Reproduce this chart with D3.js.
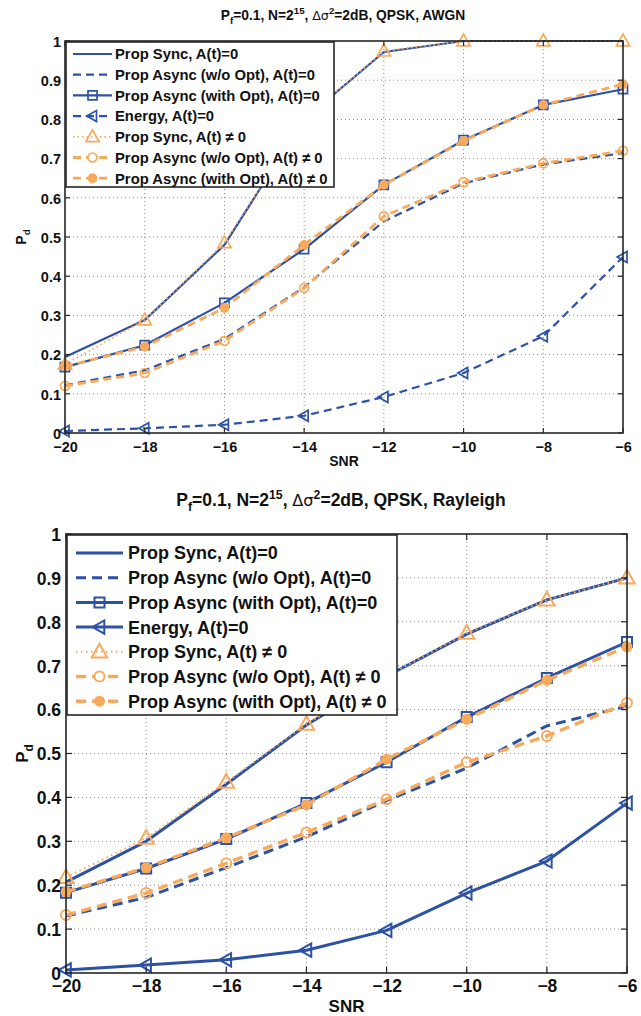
<!DOCTYPE html>
<html>
<head>
<meta charset="utf-8">
<script src="https://cdn.jsdelivr.net/npm/d3@7"></script>
<style>
  html, body { margin: 0; padding: 0; background: #fff; }
  svg { display: block; font-family: "Liberation Sans", Arial, Helvetica, sans-serif; }
</style>
</head>
<body>
<svg id="fig" width="641" height="1016"></svg>
<script>
// ---- data ----
const snr = [-20, -18, -16, -14, -12, -10, -8, -6];
const xTickLabels = ["\u221220", "\u221218", "\u221216", "\u221214", "\u221212", "\u221210", "\u22128", "\u22126"];
const yTicks = [0, 0.1, 0.2, 0.3, 0.4, 0.5, 0.6, 0.7, 0.8, 0.9, 1];
const yTickLabels = ["0", "0.1", "0.2", "0.3", "0.4", "0.5", "0.6", "0.7", "0.8", "0.9", "1"];

const seriesNames = [
  "Prop Sync, A(t)=0",
  "Prop Async (w/o Opt), A(t)=0",
  "Prop Async (with Opt), A(t)=0",
  "Energy, A(t)=0",
  "Prop Sync, A(t) \u2260 0",
  "Prop Async (w/o Opt), A(t) \u2260 0",
  "Prop Async (with Opt), A(t) \u2260 0"
];

// AWGN channel
const awgnSync0       = [0.194, 0.288, 0.480, 0.800, 0.972, 1.000, 1.000, 1.000];
const awgnAsyncNoOpt0 = [0.122, 0.160, 0.240, 0.372, 0.540, 0.637, 0.685, 0.714];
const awgnAsyncOpt0   = [0.168, 0.224, 0.332, 0.469, 0.633, 0.747, 0.837, 0.877];
const awgnEnergy0     = [0.005, 0.012, 0.021, 0.044, 0.092, 0.153, 0.247, 0.449];
const awgnSync1       = [0.175, 0.288, 0.485, 0.800, 0.974, 1.000, 1.000, 1.000];
const awgnAsyncNoOpt1 = [0.120, 0.153, 0.235, 0.370, 0.553, 0.640, 0.688, 0.720];
const awgnAsyncOpt1   = [0.170, 0.220, 0.319, 0.480, 0.633, 0.745, 0.837, 0.890];

// Rayleigh channel
const raySync0        = [0.207, 0.300, 0.430, 0.565, 0.676, 0.772, 0.850, 0.900];
const rayAsyncNoOpt0  = [0.130, 0.172, 0.240, 0.310, 0.393, 0.467, 0.563, 0.608];
const rayAsyncOpt0    = [0.183, 0.238, 0.305, 0.387, 0.480, 0.583, 0.672, 0.754];
const rayEnergy0      = [0.007, 0.018, 0.030, 0.052, 0.097, 0.182, 0.255, 0.387];
const raySync1        = [0.218, 0.307, 0.435, 0.567, 0.676, 0.774, 0.850, 0.900];
const rayAsyncNoOpt1  = [0.132, 0.182, 0.250, 0.320, 0.396, 0.480, 0.540, 0.615];
const rayAsyncOpt1    = [0.185, 0.240, 0.308, 0.383, 0.487, 0.578, 0.667, 0.743];

const titleTails = ["=2dB, QPSK, AWGN", "=2dB, QPSK, Rayleigh"];

// ---- styling ----
const BLUE = "#2d52a5";
const ORANGE = "#f8aa5c";
const AXIS = "#262626";

const svg = d3.select("#fig");

function markerPath(type, s) {
  const h = s / 2;
  switch (type) {
    case "square": return `M${-h},${-h}H${h}V${h}H${-h}Z`;
    case "triUp": return `M0,${-s * 0.58}L${s * 0.55},${s * 0.4}L${-s * 0.55},${s * 0.4}Z`;
    case "triLeft": return `M${-s * 0.58},0L${s * 0.4},${-s * 0.55}L${s * 0.4},${s * 0.55}Z`;
    case "circle": return d3.symbol(d3.symbolCircle, Math.PI * h * h)();
  }
  return null;
}

function drawPanel(cfg) {
  const g = svg.append("g");
  const x = d3.scaleLinear().domain([-20, -6]).range([cfg.left, cfg.right]);
  const y = d3.scaleLinear().domain([0, 1]).range([cfg.bottom, cfg.top]);

  // dotted grid
  const grid = g.append("g").attr("stroke", "#8a8a8a").attr("stroke-width", 1)
    .attr("stroke-dasharray", "1,3");
  grid.selectAll("line.gx").data(snr.slice(1, -1)).join("line")
    .attr("x1", d => x(d)).attr("x2", d => x(d))
    .attr("y1", cfg.top).attr("y2", cfg.bottom);
  grid.selectAll("line.gy").data(yTicks.slice(1, -1)).join("line")
    .attr("y1", d => y(d)).attr("y2", d => y(d))
    .attr("x1", cfg.left).attr("x2", cfg.right);

  // curves
  const line = d3.line().x((d, i) => x(snr[i])).y(d => y(d));
  cfg.series.forEach(s => {
    g.append("path").datum(s.values)
      .attr("d", line)
      .attr("fill", "none")
      .attr("stroke", s.color)
      .attr("stroke-width", s.width)
      .attr("stroke-dasharray", s.dash || null)
      .attr("stroke-linejoin", "round");
    if (s.marker) {
      g.selectAll(null).data(s.values).join("path")
        .attr("transform", (d, i) => `translate(${x(snr[i])},${y(d)})`)
        .attr("d", markerPath(s.marker, s.msize))
        .attr("fill", s.filled ? s.color : "none")
        .attr("stroke", s.color)
        .attr("stroke-width", cfg.markerStroke);
    }
  });

  // axes box and inner ticks
  const ax = g.append("g");
  ax.append("rect")
    .attr("x", cfg.left).attr("y", cfg.top)
    .attr("width", cfg.right - cfg.left).attr("height", cfg.bottom - cfg.top)
    .attr("fill", "none").attr("stroke", AXIS).attr("stroke-width", 1.6);
  const tl = cfg.tickLen;
  const bottomAxis = d3.axisBottom(x).tickValues(snr).tickSize(0).tickFormat((d, i) => xTickLabels[i]);
  const leftAxis = d3.axisLeft(y).tickValues(yTicks).tickSize(0).tickFormat((d, i) => yTickLabels[i]);
  const bx = ax.append("g").attr("transform", `translate(0,${cfg.bottom})`).call(bottomAxis);
  const ly = ax.append("g").attr("transform", `translate(${cfg.left},0)`).call(leftAxis);
  [bx, ly].forEach(a => a.select(".domain").remove());
  bx.selectAll("text").attr("dy", null).attr("y", cfg.xLabelY)
    .attr("font-size", cfg.tickFont).attr("font-weight", "bold").attr("fill", "#111")
    .attr("font-family", "Liberation Sans, Arial, sans-serif");
  ly.selectAll("text").attr("x", -cfg.yLabelGap).attr("dy", "0.36em")
    .attr("font-size", cfg.tickFont).attr("font-weight", "bold").attr("fill", "#111")
    .attr("font-family", "Liberation Sans, Arial, sans-serif");

  const tk = ax.append("g").attr("stroke", AXIS).attr("stroke-width", 1.2);
  snr.forEach(v => {
    tk.append("line").attr("x1", x(v)).attr("x2", x(v)).attr("y1", cfg.bottom).attr("y2", cfg.bottom - tl);
    tk.append("line").attr("x1", x(v)).attr("x2", x(v)).attr("y1", cfg.top).attr("y2", cfg.top + tl);
  });
  yTicks.forEach(v => {
    tk.append("line").attr("y1", y(v)).attr("y2", y(v)).attr("x1", cfg.left).attr("x2", cfg.left + tl);
    tk.append("line").attr("y1", y(v)).attr("y2", y(v)).attr("x1", cfg.right).attr("x2", cfg.right - tl);
  });

  // axis titles
  g.append("text")
    .attr("x", (cfg.left + cfg.right) / 2).attr("y", cfg.snrY)
    .attr("text-anchor", "middle").attr("font-weight", "bold")
    .attr("font-size", cfg.labelFont).attr("fill", "#111").text("SNR");

  const cy = (cfg.top + cfg.bottom) / 2;
  const pd = g.append("text")
    .attr("transform", `translate(${cfg.pdX},${cy}) rotate(-90)`)
    .attr("text-anchor", "middle").attr("font-weight", "bold")
    .attr("font-size", cfg.labelFont).attr("fill", "#111");
  pd.append("tspan").text("P");
  pd.append("tspan").attr("dy", cfg.labelFont * 0.3).attr("font-size", cfg.labelFont * 0.7).text("d");

  // figure title
  const fs = cfg.titleFont;
  const t = g.append("text")
    .attr("x", cfg.titleX).attr("y", cfg.titleY)
    .attr("text-anchor", "middle").attr("font-weight", "bold")
    .attr("font-size", fs).attr("fill", "#111");
  t.append("tspan").text("P");
  t.append("tspan").attr("dy", fs * 0.3).attr("font-size", fs * 0.7).text("f");
  t.append("tspan").attr("dy", -fs * 0.3).text("=0.1, N=2");
  t.append("tspan").attr("dy", -fs * 0.4).attr("font-size", fs * 0.7).text("15");
  t.append("tspan").attr("dy", fs * 0.4).text(", ");
  t.append("tspan").attr("font-weight", "normal").attr("font-family", "DejaVu Sans, sans-serif")
    .attr("font-size", fs * 0.92).text("\u0394\u03c3");
  t.append("tspan").attr("dy", -fs * 0.4).attr("font-size", fs * 0.7).text("2");
  t.append("tspan").attr("dy", fs * 0.4).text(cfg.titleTail);

  // legend
  const lg = g.append("g");
  lg.append("rect")
    .attr("x", cfg.legend.x).attr("y", cfg.legend.y)
    .attr("width", cfg.legend.w).attr("height", cfg.legend.h)
    .attr("fill", "#fff").attr("stroke", AXIS).attr("stroke-width", 1.6);
  cfg.series.forEach((s, i) => {
    const yy = cfg.legend.y + cfg.legend.first + i * cfg.legend.step;
    const x0 = cfg.legend.x + cfg.legend.lineX0;
    const x1 = cfg.legend.x + cfg.legend.lineX1;
    lg.append("line").attr("x1", x0).attr("x2", x1).attr("y1", yy).attr("y2", yy)
      .attr("stroke", s.color).attr("stroke-width", s.width)
      .attr("stroke-dasharray", s.dash || null);
    if (s.marker) {
      lg.append("path")
        .attr("transform", `translate(${(x0 + x1) / 2},${yy})`)
        .attr("d", markerPath(s.marker, s.msize))
        .attr("fill", s.filled ? s.color : (s.marker === "circle" ? "#fff" : "none"))
        .attr("stroke", s.color).attr("stroke-width", cfg.markerStroke);
    }
    lg.append("text")
      .attr("x", cfg.legend.x + cfg.legend.textX).attr("y", yy).attr("dy", "0.36em")
      .attr("font-size", cfg.legendFont).attr("font-weight", "bold").attr("fill", "#111")
      .text(seriesNames[i]);
  });
}

// top panel: AWGN
drawPanel({
  left: 65, right: 623, top: 41, bottom: 433,
  tickLen: 5, tickFont: 14.5, labelFont: 14, legendFont: 14.8, titleFont: 13.8,
  markerStroke: 1.7, xLabelY: 19, yLabelGap: 4, snrY: 466, pdX: 26,
  titleX: 343, titleY: 20, titleTail: titleTails[0],
  legend: { x: 66, y: 42, w: 268, h: 145, first: 12, step: 20.7, lineX0: 7, lineX1: 46, textX: 49 },
  series: [
    { values: awgnSync0, color: BLUE, width: 2.2 },
    { values: awgnAsyncNoOpt0, color: BLUE, width: 2.2, dash: "8,5" },
    { values: awgnAsyncOpt0, color: BLUE, width: 2.2, marker: "square", msize: 9 },
    { values: awgnEnergy0, color: BLUE, width: 2.2, dash: "8,5", marker: "triLeft", msize: 10 },
    { values: awgnSync1, color: ORANGE, width: 1.8, dash: "1.5,3", marker: "triUp", msize: 12 },
    { values: awgnAsyncNoOpt1, color: ORANGE, width: 2.8, dash: "8,5", marker: "circle", msize: 9 },
    { values: awgnAsyncOpt1, color: ORANGE, width: 2.8, dash: "8,5", marker: "circle", msize: 8, filled: true }
  ]
});

// bottom panel: Rayleigh
drawPanel({
  left: 66, right: 627, top: 534, bottom: 973,
  tickLen: 6, tickFont: 17.5, labelFont: 17, legendFont: 18, titleFont: 17.5,
  markerStroke: 2, xLabelY: 19, yLabelGap: 5, snrY: 1012, pdX: 28,
  titleX: 341, titleY: 506, titleTail: titleTails[1],
  legend: { x: 67, y: 535, w: 330, h: 180, first: 18, step: 24.7, lineX0: 9, lineX1: 56, textX: 61 },
  series: [
    { values: raySync0, color: BLUE, width: 3 },
    { values: rayAsyncNoOpt0, color: BLUE, width: 3, dash: "10,6" },
    { values: rayAsyncOpt0, color: BLUE, width: 3, marker: "square", msize: 10 },
    { values: rayEnergy0, color: BLUE, width: 3, marker: "triLeft", msize: 12 },
    { values: raySync1, color: ORANGE, width: 2, dash: "1.5,3.5", marker: "triUp", msize: 14 },
    { values: rayAsyncNoOpt1, color: ORANGE, width: 3.4, dash: "10,6", marker: "circle", msize: 10 },
    { values: rayAsyncOpt1, color: ORANGE, width: 3.4, dash: "10,6", marker: "circle", msize: 9, filled: true }
  ]
});
</script>
</body>
</html>
